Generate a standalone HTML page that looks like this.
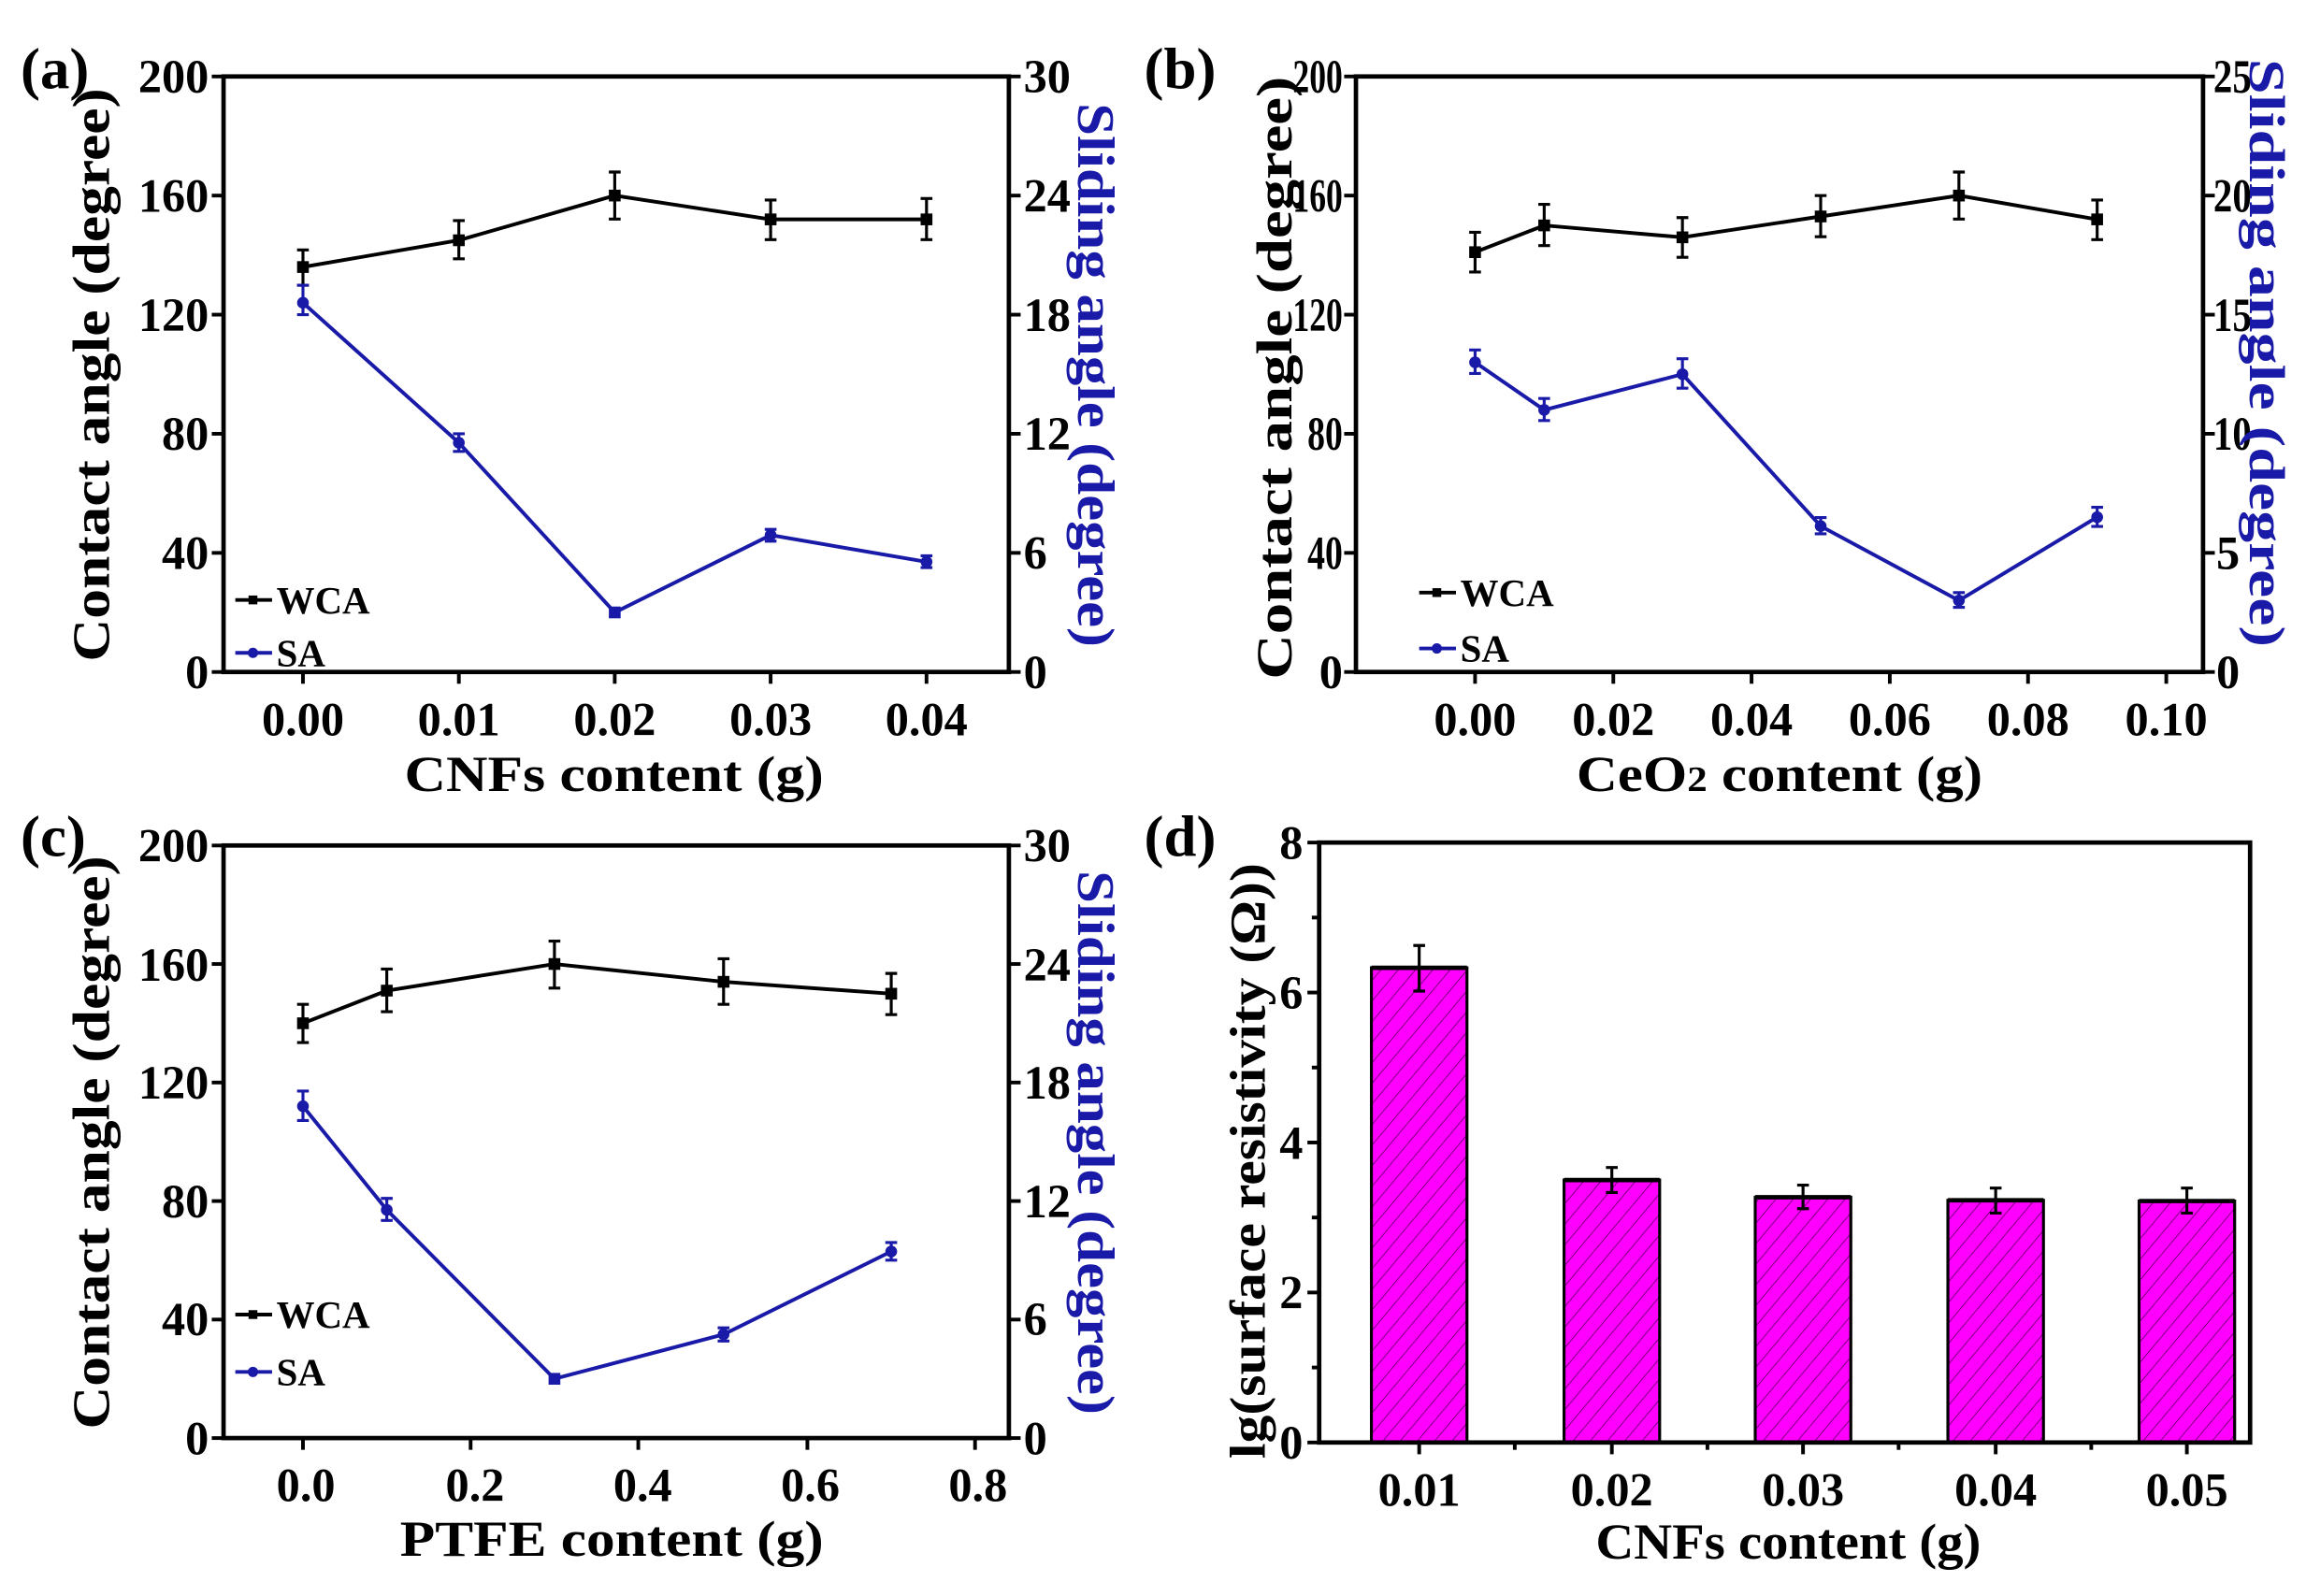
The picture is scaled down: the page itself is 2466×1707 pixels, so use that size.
<!DOCTYPE html>
<html><head><meta charset="utf-8"><style>html,body{margin:0;padding:0;background:#fff}svg{display:block}</style></head>
<body>
<svg width="2466" height="1707" viewBox="0 0 1568 1085.4" xmlns="http://www.w3.org/2000/svg" font-family="Liberation Serif, serif" font-weight="bold">
<defs>
<pattern id="h" patternUnits="userSpaceOnUse" width="9" height="9" patternTransform="rotate(40)">
<rect width="9" height="9" fill="#ff00ff"/><line x1="0" y1="0" x2="0" y2="9" stroke="#5a005a" stroke-width="1"/>
</pattern>
</defs>
<rect width="1568" height="1086" fill="#fff"/>

<!-- ========== Panel a ========== -->
<text x="14" y="60" font-size="40">(a)</text>
<rect x="152" y="52" width="534" height="405" fill="none" stroke="#000" stroke-width="3"/>
<g stroke="#000" stroke-width="2.5">
<line x1="144" y1="52" x2="152" y2="52"/><line x1="144" y1="133" x2="152" y2="133"/><line x1="144" y1="214" x2="152" y2="214"/><line x1="144" y1="295" x2="152" y2="295"/><line x1="144" y1="376" x2="152" y2="376"/><line x1="144" y1="457" x2="152" y2="457"/>
<line x1="686" y1="52" x2="694" y2="52"/><line x1="686" y1="133" x2="694" y2="133"/><line x1="686" y1="214" x2="694" y2="214"/><line x1="686" y1="295" x2="694" y2="295"/><line x1="686" y1="376" x2="694" y2="376"/><line x1="686" y1="457" x2="694" y2="457"/>
<line x1="206" y1="457" x2="206" y2="465"/><line x1="312" y1="457" x2="312" y2="465"/><line x1="418" y1="457" x2="418" y2="465"/><line x1="524" y1="457" x2="524" y2="465"/><line x1="630" y1="457" x2="630" y2="465"/>
</g>
<g font-size="32" text-anchor="end">
<text x="142" y="63">200</text><text x="142" y="144">160</text><text x="142" y="225">120</text><text x="142" y="306">80</text><text x="142" y="387">40</text><text x="142" y="468">0</text>
</g>
<g font-size="32" text-anchor="start">
<text x="696" y="63">30</text><text x="696" y="144">24</text><text x="696" y="225">18</text><text x="696" y="306">12</text><text x="696" y="387">6</text><text x="696" y="468">0</text>
</g>
<g font-size="32" text-anchor="middle">
<text x="206" y="500">0.00</text><text x="312" y="500">0.01</text><text x="418" y="500">0.02</text><text x="524" y="500">0.03</text><text x="630" y="500">0.04</text>
</g>
<text x="275" y="538" font-size="34" textLength="285" lengthAdjust="spacingAndGlyphs">CNFs content (g)</text>
<text transform="translate(74,450) rotate(-90)" font-size="36" textLength="390" lengthAdjust="spacingAndGlyphs">Contact angle (degree)</text>
<text transform="translate(733,70) rotate(90)" font-size="36" textLength="370" lengthAdjust="spacingAndGlyphs" fill="#1a1aa8">Sliding angle (degree)</text>
<polyline points="206,181.6 312,163.4 418,133 524,149.2 630,149.2" fill="none" stroke="#000" stroke-width="2.5"/>
<g stroke="#000" stroke-width="2">
<path d="M206,170v24M202,170h8M202,194h8"/><path d="M312,150v26M308,150h8M308,176h8"/><path d="M418,117v32M414,117h8M414,149h8"/><path d="M524,136v27M520,136h8M520,163h8"/><path d="M630,135v28M626,135h8M626,163h8"/>
</g>
<g fill="#000"><rect x="202" y="177.6" width="8" height="8"/><rect x="308" y="159.4" width="8" height="8"/><rect x="414" y="129" width="8" height="8"/><rect x="520" y="145.2" width="8" height="8"/><rect x="626" y="145.2" width="8" height="8"/></g>
<polyline points="206,205.9 312,301.1 418,416.5 524,363.9 630,382.1" fill="none" stroke="#1a1aa8" stroke-width="2.5"/>
<g stroke="#1a1aa8" stroke-width="2">
<path d="M206,194v20M202,194h8M202,214h8"/><path d="M312,295v12M308,295h8M308,307h8"/><path d="M524,360v8M520,360h8M520,368h8"/><path d="M630,378v8M626,378h8M626,386h8"/>
</g>
<g fill="#1a1aa8"><circle cx="206" cy="205.9" r="4"/><circle cx="312" cy="301.1" r="4"/><rect x="414" y="412.5" width="8" height="8"/><circle cx="524" cy="363.9" r="4"/><circle cx="630" cy="382.1" r="4"/></g>
<line x1="160" y1="408" x2="185" y2="408" stroke="#000" stroke-width="2.5"/><rect x="169" y="405" width="6" height="6"/>
<text x="188" y="417" font-size="26">WCA</text>
<line x1="160" y1="444" x2="185" y2="444" stroke="#1a1aa8" stroke-width="2.5"/><circle cx="172" cy="444" r="3.5" fill="#1a1aa8"/>
<text x="188" y="453" font-size="26">SA</text>

<!-- ========== Panel b ========== -->
<text x="778" y="60" font-size="40">(b)</text>
<rect x="922" y="52" width="576" height="405" fill="none" stroke="#000" stroke-width="3"/>
<g stroke="#000" stroke-width="2.5">
<line x1="914" y1="52" x2="922" y2="52"/><line x1="914" y1="133" x2="922" y2="133"/><line x1="914" y1="214" x2="922" y2="214"/><line x1="914" y1="295" x2="922" y2="295"/><line x1="914" y1="376" x2="922" y2="376"/><line x1="914" y1="457" x2="922" y2="457"/>
<line x1="1498" y1="52" x2="1506" y2="52"/><line x1="1498" y1="133" x2="1506" y2="133"/><line x1="1498" y1="214" x2="1506" y2="214"/><line x1="1498" y1="295" x2="1506" y2="295"/><line x1="1498" y1="376" x2="1506" y2="376"/><line x1="1498" y1="457" x2="1506" y2="457"/>
<line x1="1003" y1="457" x2="1003" y2="465"/><line x1="1097" y1="457" x2="1097" y2="465"/><line x1="1191" y1="457" x2="1191" y2="465"/><line x1="1285" y1="457" x2="1285" y2="465"/><line x1="1379" y1="457" x2="1379" y2="465"/><line x1="1473" y1="457" x2="1473" y2="465"/>
</g>
<g font-size="32" text-anchor="end">
<text x="913" y="63" textLength="34" lengthAdjust="spacingAndGlyphs">200</text><text x="913" y="144" textLength="34" lengthAdjust="spacingAndGlyphs">160</text><text x="913" y="225" textLength="34" lengthAdjust="spacingAndGlyphs">120</text><text x="913" y="306" textLength="24" lengthAdjust="spacingAndGlyphs">80</text><text x="913" y="387" textLength="24" lengthAdjust="spacingAndGlyphs">40</text><text x="913" y="468">0</text>
</g>
<g font-size="32" text-anchor="start">
<text x="1505" y="63" textLength="26" lengthAdjust="spacingAndGlyphs">25</text><text x="1505" y="144" textLength="26" lengthAdjust="spacingAndGlyphs">20</text><text x="1505" y="225" textLength="26" lengthAdjust="spacingAndGlyphs">15</text><text x="1505" y="306" textLength="26" lengthAdjust="spacingAndGlyphs">10</text><text x="1507" y="387">5</text><text x="1507" y="468">0</text>
</g>
<g font-size="32" text-anchor="middle">
<text x="1003" y="500">0.00</text><text x="1097" y="500">0.02</text><text x="1191" y="500">0.04</text><text x="1285" y="500">0.06</text><text x="1379" y="500">0.08</text><text x="1473" y="500">0.10</text>
</g>
<text x="1072" y="538" font-size="34" textLength="276" lengthAdjust="spacingAndGlyphs">CeO<tspan font-size="24">2</tspan> content (g)</text>
<text transform="translate(878,462) rotate(-90)" font-size="34" textLength="410" lengthAdjust="spacingAndGlyphs">Contact angle (degree)</text>
<text transform="translate(1530,40) rotate(90)" font-size="34" textLength="400" lengthAdjust="spacingAndGlyphs" fill="#1a1aa8">Sliding angle (degree)</text>
<polyline points="1003,171.5 1050,153.3 1144,161.4 1238,147.2 1332,133 1426,149.2" fill="none" stroke="#000" stroke-width="2.5"/>
<g stroke="#000" stroke-width="2">
<path d="M1003,158v27M999,158h8M999,185h8"/><path d="M1050,139v28M1046,139h8M1046,167h8"/><path d="M1144,148v27M1140,148h8M1140,175h8"/><path d="M1238,133v28M1234,133h8M1234,161h8"/><path d="M1332,117v32M1328,117h8M1328,149h8"/><path d="M1426,136v27M1422,136h8M1422,163h8"/>
</g>
<g fill="#000"><rect x="999" y="167.5" width="8" height="8"/><rect x="1046" y="149.3" width="8" height="8"/><rect x="1140" y="157.4" width="8" height="8"/><rect x="1234" y="143.2" width="8" height="8"/><rect x="1328" y="129" width="8" height="8"/><rect x="1422" y="145.2" width="8" height="8"/></g>
<polyline points="1003,246.4 1050,278.8 1144,254.5 1238,357.8 1332,408.4 1426,351.7" fill="none" stroke="#1a1aa8" stroke-width="2.5"/>
<g stroke="#1a1aa8" stroke-width="2">
<path d="M1003,238v16M999,238h8M999,254h8"/><path d="M1050,271v15M1046,271h8M1046,286h8"/><path d="M1144,244v20M1140,244h8M1140,264h8"/><path d="M1238,352v11M1234,352h8M1234,363h8"/><path d="M1332,403v10M1328,403h8M1328,413h8"/><path d="M1426,345v13M1422,345h8M1422,358h8"/>
</g>
<g fill="#1a1aa8"><circle cx="1003" cy="246.4" r="4"/><circle cx="1050" cy="278.8" r="4"/><circle cx="1144" cy="254.5" r="4"/><circle cx="1238" cy="357.8" r="4"/><circle cx="1332" cy="408.4" r="4"/><circle cx="1426" cy="351.7" r="4"/></g>
<line x1="965" y1="403" x2="990" y2="403" stroke="#000" stroke-width="2.5"/><rect x="974" y="400" width="6" height="6"/>
<text x="993" y="412" font-size="26">WCA</text>
<line x1="965" y1="441" x2="990" y2="441" stroke="#1a1aa8" stroke-width="2.5"/><circle cx="977" cy="441" r="3.5" fill="#1a1aa8"/>
<text x="993" y="450" font-size="26">SA</text>

<!-- ========== Panel c ========== -->
<text x="14" y="582" font-size="40">(c)</text>
<rect x="152" y="575" width="534" height="403" fill="none" stroke="#000" stroke-width="3"/>
<g stroke="#000" stroke-width="2.5">
<line x1="144" y1="575" x2="152" y2="575"/><line x1="144" y1="655.6" x2="152" y2="655.6"/><line x1="144" y1="736.2" x2="152" y2="736.2"/><line x1="144" y1="816.8" x2="152" y2="816.8"/><line x1="144" y1="897.4" x2="152" y2="897.4"/><line x1="144" y1="978" x2="152" y2="978"/>
<line x1="686" y1="575" x2="694" y2="575"/><line x1="686" y1="655.6" x2="694" y2="655.6"/><line x1="686" y1="736.2" x2="694" y2="736.2"/><line x1="686" y1="816.8" x2="694" y2="816.8"/><line x1="686" y1="897.4" x2="694" y2="897.4"/><line x1="686" y1="978" x2="694" y2="978"/>
<line x1="206" y1="978" x2="206" y2="986"/><line x1="320" y1="978" x2="320" y2="986"/><line x1="434" y1="978" x2="434" y2="986"/><line x1="549" y1="978" x2="549" y2="986"/><line x1="663" y1="978" x2="663" y2="986"/>
</g>
<g font-size="32" text-anchor="end">
<text x="142" y="586">200</text><text x="142" y="667">160</text><text x="142" y="747">120</text><text x="142" y="828">80</text><text x="142" y="908">40</text><text x="142" y="989">0</text>
</g>
<g font-size="32" text-anchor="start">
<text x="696" y="586">30</text><text x="696" y="667">24</text><text x="696" y="747">18</text><text x="696" y="828">12</text><text x="696" y="908">6</text><text x="696" y="989">0</text>
</g>
<g font-size="32" text-anchor="middle">
<text x="208" y="1021">0.0</text><text x="323" y="1021">0.2</text><text x="437" y="1021">0.4</text><text x="551" y="1021">0.6</text><text x="665" y="1021">0.8</text>
</g>
<text x="272" y="1058" font-size="34" textLength="288" lengthAdjust="spacingAndGlyphs">PTFE content (g)</text>
<text transform="translate(74,972) rotate(-90)" font-size="36" textLength="390" lengthAdjust="spacingAndGlyphs">Contact angle (degree)</text>
<text transform="translate(733,592) rotate(90)" font-size="36" textLength="370" lengthAdjust="spacingAndGlyphs" fill="#1a1aa8">Sliding angle (degree)</text>
<polyline points="206,695.9 263,673.7 377,655.6 492,667.7 606,675.8" fill="none" stroke="#000" stroke-width="2.5"/>
<g stroke="#000" stroke-width="2">
<path d="M206,683v26M202,683h8M202,709h8"/><path d="M263,659v29M259,659h8M259,688h8"/><path d="M377,640v32M373,640h8M373,672h8"/><path d="M492,652v31M488,652h8M488,683h8"/><path d="M606,662v28M602,662h8M602,690h8"/>
</g>
<g fill="#000"><rect x="202" y="691.9" width="8" height="8"/><rect x="259" y="669.7" width="8" height="8"/><rect x="373" y="651.6" width="8" height="8"/><rect x="488" y="663.7" width="8" height="8"/><rect x="602" y="671.8" width="8" height="8"/></g>
<polyline points="206,752.3 263,822.8 377,937.7 492,907.5 606,851.1" fill="none" stroke="#1a1aa8" stroke-width="2.5"/>
<g stroke="#1a1aa8" stroke-width="2">
<path d="M206,742v20M202,742h8M202,762h8"/><path d="M263,815v15M259,815h8M259,830h8"/><path d="M492,903v9M488,903h8M488,912h8"/><path d="M606,845v12M602,845h8M602,857h8"/>
</g>
<g fill="#1a1aa8"><circle cx="206" cy="752.3" r="4"/><circle cx="263" cy="822.8" r="4"/><rect x="373" y="933.7" width="8" height="8"/><circle cx="492" cy="907.5" r="4"/><circle cx="606" cy="851.1" r="4"/></g>
<line x1="160" y1="894" x2="185" y2="894" stroke="#000" stroke-width="2.5"/><rect x="169" y="891" width="6" height="6"/>
<text x="188" y="903" font-size="26">WCA</text>
<line x1="160" y1="933" x2="185" y2="933" stroke="#1a1aa8" stroke-width="2.5"/><circle cx="172" cy="933" r="3.5" fill="#1a1aa8"/>
<text x="188" y="942" font-size="26">SA</text>

<!-- ========== Panel d ========== -->
<text x="778" y="582" font-size="40">(d)</text>
<g stroke="#000" stroke-width="2">
<rect x="932.5" y="658.2" width="65" height="322.8" fill="url(#h)"/>
<rect x="1063.5" y="802.5" width="65" height="178.5" fill="url(#h)"/>
<rect x="1193.5" y="814.2" width="65" height="166.8" fill="url(#h)"/>
<rect x="1324.5" y="816.3" width="65" height="164.7" fill="url(#h)"/>
<rect x="1454.5" y="816.8" width="65" height="164.2" fill="url(#h)"/>
</g>
<g stroke="#000" stroke-width="3"><line x1="932.5" y1="658.2" x2="997.5" y2="658.2"/><line x1="1063.5" y1="802.5" x2="1128.5" y2="802.5"/><line x1="1193.5" y1="814.2" x2="1258.5" y2="814.2"/><line x1="1324.5" y1="816.3" x2="1389.5" y2="816.3"/><line x1="1454.5" y1="816.8" x2="1519.5" y2="816.8"/></g>
<g stroke="#000" stroke-width="2">
<path d="M965,643v31M961,643h8M961,674h8"/><path d="M1096,794v17M1092,794h8M1092,811h8"/><path d="M1226,806v16M1222,806h8M1222,822h8"/><path d="M1357,808v17M1353,808h8M1353,825h8"/><path d="M1487,808v17M1483,808h8M1483,825h8"/>
</g>
<rect x="897" y="573" width="633" height="408" fill="none" stroke="#000" stroke-width="3"/>
<g stroke="#000" stroke-width="2.5">
<line x1="889" y1="573" x2="897" y2="573"/><line x1="889" y1="675" x2="897" y2="675"/><line x1="889" y1="777" x2="897" y2="777"/><line x1="889" y1="879" x2="897" y2="879"/><line x1="889" y1="981" x2="897" y2="981"/>
<line x1="892" y1="624" x2="897" y2="624"/><line x1="892" y1="726" x2="897" y2="726"/><line x1="892" y1="828" x2="897" y2="828"/><line x1="892" y1="930" x2="897" y2="930"/>
<line x1="965" y1="981" x2="965" y2="989"/><line x1="1096" y1="981" x2="1096" y2="989"/><line x1="1226" y1="981" x2="1226" y2="989"/><line x1="1357" y1="981" x2="1357" y2="989"/><line x1="1487" y1="981" x2="1487" y2="989"/>
<line x1="1030" y1="981" x2="1030" y2="986"/><line x1="1161" y1="981" x2="1161" y2="986"/><line x1="1291" y1="981" x2="1291" y2="986"/><line x1="1422" y1="981" x2="1422" y2="986"/>
</g>
<g font-size="32" text-anchor="end">
<text x="886" y="584">8</text><text x="886" y="686">6</text><text x="886" y="788">4</text><text x="886" y="890">2</text><text x="886" y="992">0</text>
</g>
<g font-size="32" text-anchor="middle">
<text x="965" y="1024">0.01</text><text x="1096" y="1024">0.02</text><text x="1226" y="1024">0.03</text><text x="1357" y="1024">0.04</text><text x="1487" y="1024">0.05</text>
</g>
<text x="1085" y="1060" font-size="34" textLength="262" lengthAdjust="spacingAndGlyphs">CNFs content (g)</text>
<text transform="translate(860,992) rotate(-90)" font-size="34" textLength="405" lengthAdjust="spacingAndGlyphs">lg(surface resistivity (Ω))</text>
</svg>
</body></html>
